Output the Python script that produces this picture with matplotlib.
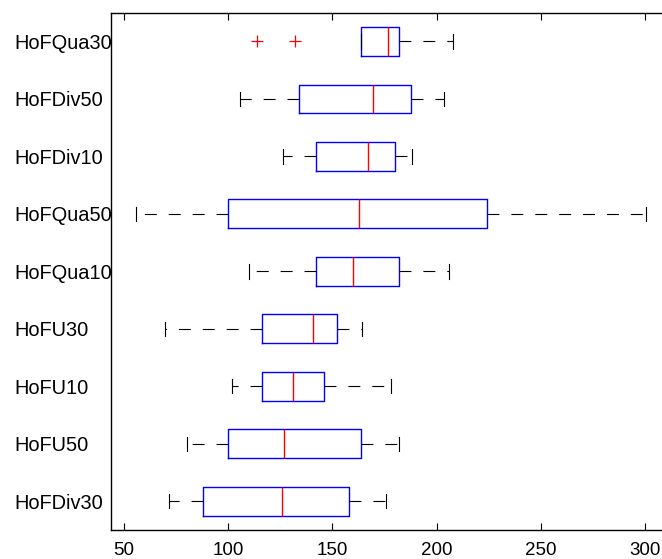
import matplotlib
matplotlib.use("Agg")
import matplotlib.pyplot as plt

plt.rcParams['font.family'] = ['Liberation Sans', 'DejaVu Sans']
plt.rcParams['lines.scale_dashes'] = False

# bottom to top
labels = ["HoFDiv30", "HoFU50", "HoFU10", "HoFU30", "HoFQua10",
          "HoFQua50", "HoFDiv10", "HoFDiv50", "HoFQua30"]
whislo = [71.8, 80.2, 101.9, 70.0, 110.1, 55.9, 126.2, 105.8, 163.9]
q1 = [88.0, 100.0, 116.1, 116.1, 142.0, 100.1, 142.0, 134.1, 163.9]
med = [125.8, 127.0, 131.0, 140.9, 160.1, 162.9, 167.0, 169.7, 176.8]
q3 = [157.8, 163.9, 146.0, 152.1, 182.0, 224.1, 179.9, 187.9, 181.8]
whishi = [175.7, 182.1, 178.0, 164.1, 206.0, 300.1, 188.1, 203.7, 207.7]
fliers = [[], [], [], [], [], [], [], [], [113.7, 131.9]]

stats = []
for i in range(len(labels)):
    stats.append(dict(label=labels[i], whislo=whislo[i], q1=q1[i], med=med[i],
                      q3=q3[i], whishi=whishi[i], fliers=fliers[i]))

fig = plt.figure(figsize=(6.62, 5.59), dpi=100)
ax = fig.add_axes([0.1672, 0.0519, 0.8328, 0.9254])

ax.bxp(stats, positions=range(1, len(labels) + 1), vert=False, widths=0.5,
       capwidths=0.25, showfliers=True,
       boxprops=dict(color='#0000ff', linewidth=1.0),
       medianprops=dict(color='#ff0000', linewidth=1.0),
       whiskerprops=dict(color='black', linewidth=0.8, linestyle=(0, (8.6, 8.6))),
       capprops=dict(color='black', linewidth=0.8),
       flierprops=dict(marker='+', markeredgecolor='#ff0000', markersize=8,
                       markeredgewidth=0.9, linestyle='none'))

ax.set_xlim(43.8, 308.0)
ax.set_ylim(0.5, 9.5)
ax.set_xticks([50, 100, 150, 200, 250, 300])
ax.spines['right'].set_visible(False)
for s in ['left', 'top', 'bottom']:
    ax.spines[s].set_linewidth(1.0)
ax.tick_params(axis='x', direction='in', length=5, width=0.8, top=True,
               labelsize=13.5, pad=9)
# labels left aligned, starting near the figure edge
ax.tick_params(axis='y', length=0, labelsize=14.4, pad=69.6)
for t in ax.get_yticklabels():
    t.set_horizontalalignment('left')

fig.savefig("out.png", dpi=100)
